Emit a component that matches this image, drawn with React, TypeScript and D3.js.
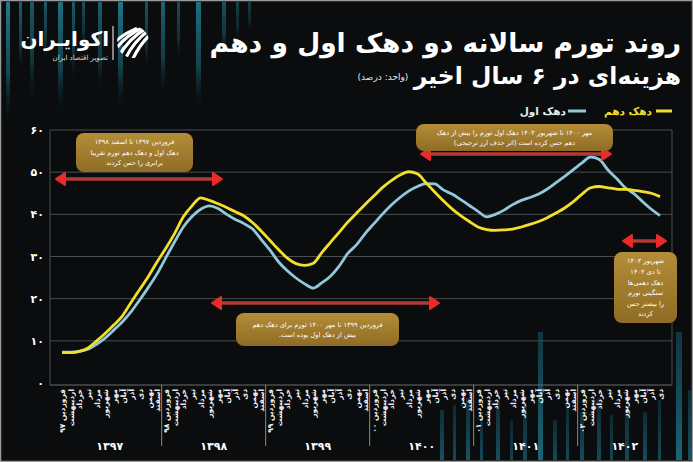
import React from "react";
import * as d3 from "d3";

const W = 693;
const H = 462;

const monthNames = ["فروردین", "اردیبهشت", "خرداد", "تیر", "مرداد", "شهریور", "مهر", "آبان", "آذر", "دی", "بهمن", "اسفند"];
const years = ["۱۳۹۷", "۱۳۹۸", "۱۳۹۹", "۱۴۰۰", "۱۴۰۱", "۱۴۰۲"];
const monthsPerYear = [12, 12, 12, 12, 12, 10];
const yTicks = [0, 10, 20, 30, 40, 50, 60];

// دهک دهم (yellow)
const decile10 = [
  7.2, 7.2, 7.5, 8.3, 10.0, 11.8, 13.8, 16.0, 19.2, 22.3, 25.4, 28.8,
  32.0, 35.5, 39.4, 42.0, 43.9, 43.3, 42.5, 41.6, 40.6, 39.6, 38.0, 36.0,
  33.8, 31.6, 29.6, 28.3, 27.9, 28.4, 31.0, 33.4, 35.8, 38.2, 40.3, 42.4,
  44.4, 46.4, 48.0, 49.3, 50.1, 49.6, 47.5, 45.3, 43.2, 41.3, 39.7, 38.3,
  37.0, 36.4, 36.2, 36.3, 36.5, 37.0, 37.6, 38.3, 39.2, 40.3, 41.5, 43.0,
  44.8, 46.3, 46.6, 46.3, 46.0, 45.9, 45.7, 45.4, 45.0, 44.2,
];
// دهک اول (light blue)
const decile1 = [
  7.3, 7.3, 7.5, 8.0, 9.2, 10.7, 12.6, 14.6, 17.0, 19.8, 22.8, 26.0,
  29.8, 33.5, 37.0, 39.5, 41.2, 42.0, 41.4, 40.0, 38.8, 37.8, 36.5, 34.0,
  31.5, 28.7, 26.6, 24.9, 23.5, 22.5, 23.8, 25.4, 27.8, 30.8, 32.8, 35.5,
  37.8, 40.1, 42.2, 44.0, 45.5, 46.6, 47.3, 47.2, 45.8, 44.8, 43.5, 42.1,
  40.7, 39.4, 40.0, 41.0, 42.3, 43.3, 44.0, 44.8, 46.0, 47.5, 49.0, 50.6,
  52.2, 53.6, 53.0, 50.5, 48.5, 46.3, 44.9, 43.0, 41.2, 39.7,
];

const seriesNames = ["دهک دهم", "دهک اول"];
const seriesColors = ["#f2df2c", "#8fc9da"];

const notes = [
  { lines: ["فروردین ۱۳۹۷ تا اسفند ۱۳۹۸", "دهک اول و دهک دهم تورم تقریبا", "برابری را حس کردند"] },
  { lines: ["فروردین ۱۳۹۹ تا مهر ۱۴۰۰ تورم برای دهک دهم", "بیش از دهک اول بوده است."] },
  { lines: ["مهر ۱۴۰۰ تا شهریور ۱۴۰۲ دهک اول تورم را بیش از دهک", "دهم حس کرده است (اثر حذف ارز ترجیحی)"] },
  { lines: ["شهریور ۱۴۰۲", "تا دی ۱۴۰۲", "دهک دهمی‌ها", "سنگینی تورم", "را بیشتر حس", "کردند"] },
];

// layout of annotation boxes / arrows (pixels)
const noteBoxes = [
  { x: 76, y: 133, w: 117, h: 39, fs: 6.6 },
  { x: 236, y: 313, w: 163, h: 33, fs: 6.6 },
  { x: 416, y: 124, w: 197, h: 27, fs: 6.6 },
  { x: 614, y: 252, w: 63, h: 71, fs: 6.6 },
];
const noteArrows = [
  { x1: 56, x2: 222, y: 179 },
  { x1: 212, x2: 439, y: 303 },
  { x1: 421, x2: 611, y: 154 },
  { x1: 623, x2: 666, y: 241 },
];

// decorative background stripes [x, width, height, opacity]
const topStripes = [
  [6, 4, 120, 1], [19, 3, 70, 0.75], [30, 4, 100, 0.7], [44, 3, 60, 0.7], [58, 5, 112, 0.9],
  [72, 3, 80, 0.7], [82, 3, 50, 0.6], [98, 4, 90, 0.75], [118, 5, 108, 0.95], [145, 3, 70, 0.65],
  [161, 4, 95, 0.8], [177, 3, 60, 0.6], [196, 5, 110, 0.9], [222, 4, 55, 0.65], [236, 3, 40, 0.5],
  [248, 3, 30, 0.45],
];
const bottomStripes = [
  [440, 4, 50, 0.8], [453, 3, 55, 0.7], [466, 4, 62, 0.8], [480, 3, 45, 0.7], [496, 4, 60, 0.75],
  [510, 3, 40, 0.6], [523, 4, 55, 0.7], [538, 5, 128, 1], [553, 4, 40, 0.7], [566, 3, 58, 0.7],
  [580, 4, 48, 0.75], [597, 4, 62, 0.7], [610, 3, 45, 0.65], [625, 4, 55, 0.7], [643, 4, 48, 0.75],
  [658, 3, 60, 0.7], [676, 6, 128, 1], [688, 4, 70, 0.8],
];

const fa = (s: string | number) => String(s).replace(/[0-9]/g, (d) => "۰۱۲۳۴۵۶۷۸۹"[+d]);

export default function App() {
  const n = decile10.length;
  const x = d3.scaleLinear().domain([0, n - 1]).range([62, 660]);
  const y = d3.scaleLinear().domain([0, 60]).range([383, 130]);
  const plotL = 50, plotR = 672;

  const line = d3
    .line<number>()
    .x((_, i) => x(i))
    .y((d) => y(d))
    .curve(d3.curveMonotoneX);

  const labels: { i: number; text: string }[] = [];
  const yearStarts: number[] = [];
  let idx = 0;
  monthsPerYear.forEach((cnt, yi) => {
    yearStarts.push(idx);
    for (let m = 0; m < cnt; m++) {
      labels.push({ i: idx, text: m === 0 ? `${monthNames[m]} ${years[yi].slice(2)}` : monthNames[m] });
      idx++;
    }
  });

  const font = "'DejaVu Sans', sans-serif";

  return (
    <svg width={W} height={H} viewBox={`0 0 ${W} ${H}`} style={{ display: "block", position: "absolute", left: 0, top: 0 }} fontFamily={font}>
      <defs>
        <linearGradient id="gold" x1="0" y1="0" x2="0" y2="1">
          <stop offset="0" stopColor="#b48d38" />
          <stop offset="1" stopColor="#8e6c24" />
        </linearGradient>
        <linearGradient id="stripeTop" x1="0" y1="0" x2="0" y2="1">
          <stop offset="0" stopColor="#237a8c" />
          <stop offset="0.6" stopColor="#175564" stopOpacity="0.8" />
          <stop offset="1" stopColor="#0b1d22" stopOpacity="0" />
        </linearGradient>
        <linearGradient id="stripeBot" x1="0" y1="1" x2="0" y2="0">
          <stop offset="0" stopColor="#1a6578" />
          <stop offset="1" stopColor="#12414d" stopOpacity="0.8" />
        </linearGradient>
        <clipPath id="logoClip">
          <circle cx={133} cy={42} r={16} />
        </clipPath>
      </defs>
      <rect x={0} y={0} width={W} height={H} fill="#0a0c0d" />
      <rect x={0.5} y={0.5} width={W - 1} height={H - 1} fill="none" stroke="#9a9a9a" strokeWidth={1.5} />

      {topStripes.map(([sx, sw, sh, so], k) => (
        <rect key={"t" + k} x={sx} y={2} width={sw} height={sh} fill="url(#stripeTop)" opacity={so} />
      ))}
      {bottomStripes.map(([sx, sw, sh, so], k) => (
        <rect key={"b" + k} x={sx} y={H - 2 - sh} width={sw} height={sh} fill="url(#stripeBot)" opacity={so} />
      ))}

      {/* logo */}
      <g>
        <g clipPath="url(#logoClip)" stroke="#ffffff" strokeWidth={3.2} strokeLinecap="round">
          {[-14, -7, 0, 7, 14].map((o) => (
            <path key={o} d={`M ${118 + o} ${58 + o * 0.2} Q ${128 + o} ${38} ${150 + o} ${26 - o * 0.2}`} fill="none" />
          ))}
        </g>
        <line x1={113} y1={26} x2={113} y2={60} stroke="#ffffff" strokeWidth={1} />
        <text x={109} y={46} textAnchor="start" fill="#fff" fontSize={20} fontWeight="bold" direction="rtl">اکوایـران</text>
        <text x={108} y={60} textAnchor="start" fill="#ddd" fontSize={7} direction="rtl">تصویر اقتصاد ایران</text>
      </g>

      {/* title */}
      <text x={681} y={52} textAnchor="start" direction="rtl" fill="#fff" fontSize={26.5} fontWeight="bold">روند تورم سالانه دو دهک اول و دهم</text>
      <text x={681} y={84} textAnchor="start" direction="rtl" fill="#fff" fontSize={23.5} fontWeight="bold">هزینه‌ای در ۶ سال اخیر</text>
      <text x={383} y={80} textAnchor="middle" direction="rtl" fill="#e8e8e8" fontSize={9}>(واحد: درصد)</text>

      {/* legend */}
      <g>
        <line x1={656} x2={672} y1={111} y2={111} stroke={seriesColors[0]} strokeWidth={3} />
        <text x={652} y={115} textAnchor="start" direction="rtl" fill={seriesColors[0]} fontSize={10.5} fontWeight="bold">{seriesNames[0]}</text>
        <line x1={568} x2={586} y1={111} y2={111} stroke={seriesColors[1]} strokeWidth={3} />
        <text x={566} y={115} textAnchor="start" direction="rtl" fill="#e6eef0" fontSize={10.5} fontWeight="bold">{seriesNames[1]}</text>
      </g>

      {/* grid */}
      {yTicks.map((t) => (
        <g key={t}>
          {t > 0 && <line x1={plotL} x2={plotR} y1={y(t)} y2={y(t)} stroke="#4b4d4e" strokeWidth={1} />}
          <text x={44} y={y(t) + 4} textAnchor="end" fill="#fff" fontSize={11} fontWeight="bold">{fa(t)}</text>
        </g>
      ))}
      <line x1={plotL} x2={plotL} y1={y(60)} y2={y(0) + 2} stroke="#4b4d4e" />
      <line x1={plotR} x2={plotR} y1={y(60)} y2={y(0) + 2} stroke="#4b4d4e" />
      <line x1={plotL} x2={plotR} y1={y(0) + 2} y2={y(0) + 2} stroke="#6a6c6d" strokeWidth={1.2} />

      {/* x axis */}
      {yearStarts.slice(1).map((s) => (
        <line key={s} x1={x(s - 0.5)} x2={x(s - 0.5)} y1={y(0) + 2} y2={446} stroke="#8a8a8a" strokeWidth={1} />
      ))}
      {labels.map((l) => (
        <text key={l.i} transform={`translate(${x(l.i) + 3},${y(0) + 6}) rotate(-90)`} textAnchor="end" fill="#f2f2f2" fontSize={7.5} fontWeight="bold">
          {l.text}
        </text>
      ))}
      {years.map((yr, yi) => {
        const s = yearStarts[yi];
        const e = s + monthsPerYear[yi] - 1;
        const cx = yi === years.length - 1 ? (x(s - 0.5) + 672) / 2 : (x(s - 0.5) + x(e + 0.5)) / 2;
        return (
          <text key={yr} x={cx} y={450} textAnchor="middle" fill="#fff" fontSize={11} fontWeight="bold">{yr}</text>
        );
      })}

      {/* series */}
      <path d={line(decile1) || ""} fill="none" stroke={seriesColors[1]} strokeWidth={2.8} strokeLinejoin="round" />
      <path d={line(decile10) || ""} fill="none" stroke={seriesColors[0]} strokeWidth={2.8} strokeLinejoin="round" />

      {/* annotations */}
      {noteArrows.map((a, k) => (
        <g key={"a" + k}>
          <line x1={a.x1 + 4} x2={a.x2 - 4} y1={a.y} y2={a.y} stroke="#b13a36" strokeWidth={3.5} />
          <path d={`M ${a.x1} ${a.y} L ${a.x1 + 9} ${a.y - 6} L ${a.x1 + 9} ${a.y + 6} Z`} fill="#ec2a2a" stroke="#ec2a2a" strokeWidth={2} strokeLinejoin="round" />
          <path d={`M ${a.x2} ${a.y} L ${a.x2 - 9} ${a.y - 6} L ${a.x2 - 9} ${a.y + 6} Z`} fill="#ec2a2a" stroke="#ec2a2a" strokeWidth={2} strokeLinejoin="round" />
        </g>
      ))}
      {noteBoxes.map((b, k) => {
        const lines = notes[k].lines;
        const lh = b.fs * 1.6;
        const start = b.y + b.h / 2 - ((lines.length - 1) * lh) / 2 + b.fs * 0.35;
        return (
          <g key={"n" + k}>
            <rect x={b.x} y={b.y} width={b.w} height={b.h} rx={8} fill="url(#gold)" />
            {lines.map((t, j) => (
              <text key={j} x={b.x + b.w / 2} y={start + j * lh} textAnchor="middle" direction="rtl" fill="#fff" fontSize={b.fs}>
                {t}
              </text>
            ))}
          </g>
        );
      })}
    </svg>
  );
}
